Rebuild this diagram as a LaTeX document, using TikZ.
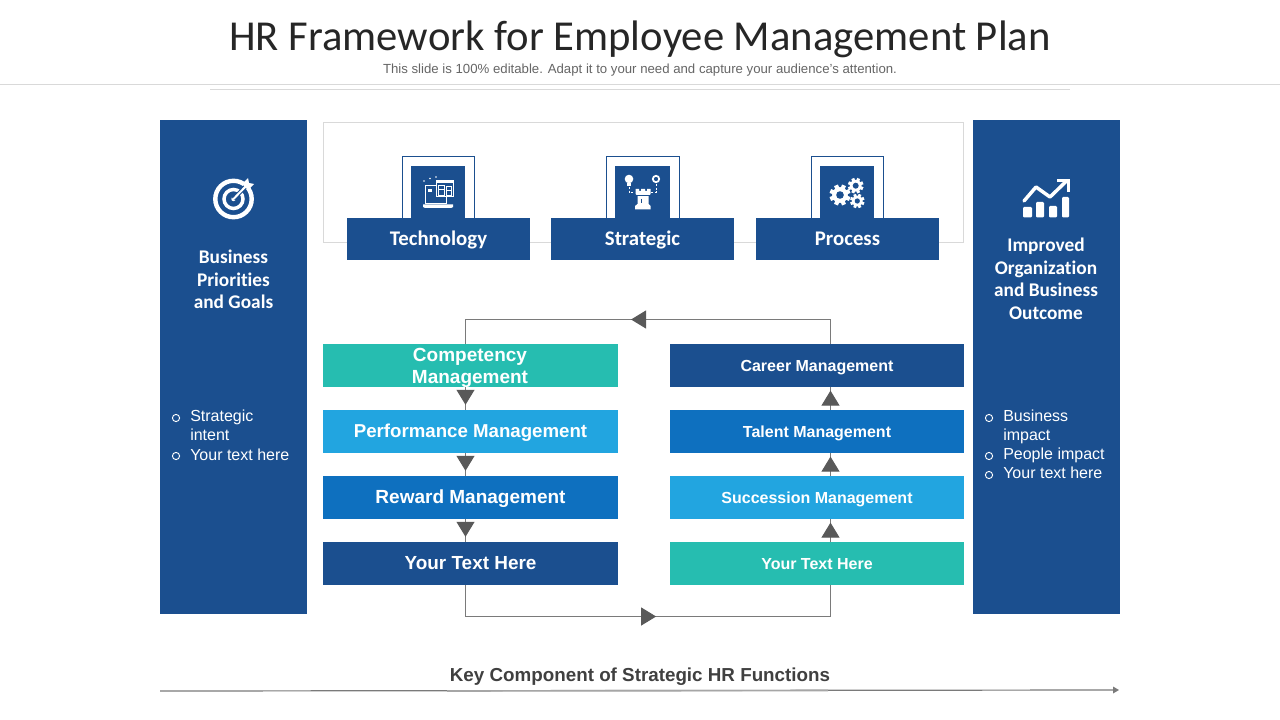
\documentclass[tikz,border=0pt]{standalone}
\usepackage{fontspec}
\setmainfont{Liberation Sans}
\newfontfamily\calfont[Ligatures=NoCommon]{Carlito}
\usetikzlibrary{arrows.meta,decorations.markings}
\definecolor{navy}{HTML}{1B4F8F}
\definecolor{tealb}{HTML}{26BDB0}
\definecolor{skyb}{HTML}{22A5E0}
\definecolor{midb}{HTML}{0E70BF}
\definecolor{linegray}{HTML}{7A7A7A}
\definecolor{trigray}{HTML}{595959}
\definecolor{rulegray}{HTML}{D9D9D9}
\newcommand{\fs}[1]{\fontsize{#1}{#1}\selectfont}
\newcommand{\gearicon}[4]{% x y r hole
  \fill[white] (#1,#2) circle[radius=#3*.75];
  \foreach \a in {0,45,...,315}{
    \fill[white,shift={(#1,#2)},rotate=\a+22.5] (#3*.62,-#3*.2) rectangle (#3,#3*.2);
  }
  \fill[navy] (#1,#2) circle[radius=#4];
}
\tikzset{
  x=.75pt,y=-.75pt,
  panel/.style={fill=navy,draw=none,inner sep=0,minimum width=110.25pt,minimum height=370.5pt},
  hdr/.style={fill=navy,draw=none,inner sep=0,minimum width=137.25pt,minimum height=31.5pt,text=white,font=\calfont\bfseries\fs{15.6},text height=11pt,text depth=1pt},
  fbox/.style={inner sep=0,minimum height=32.25pt,text=white,font=\bfseries,text height=10.7pt,text depth=1pt},
  lbox/.style={fbox,minimum width=221.25pt},
  rbox/.style={fbox,minimum width=220.5pt},
  ptitle/.style={text=white,font=\calfont\bfseries\fontsize{14.5}{16.9}\selectfont,align=center,inner sep=0},
  plist/.style={text=white,font=\fontsize{12}{14.25}\selectfont,align=left,anchor=west,inner sep=0},
  bul/.style={draw=white,line width=.7pt},
  conn/.style={draw=linegray,line width=.75pt,postaction={decorate}},
  tip at/.style={decoration={markings,mark=at position #1 with {\arrow{Triangle[width=13.5pt,length=11.25pt,color=trigray]}}}},
  icon/.style={white,line width=.75pt}
}
\begin{document}
\begin{tikzpicture}
\useasboundingbox (0,0) rectangle (1280,720);
\fill[white] (0,0) rectangle (1280,720);
% header
\node[inner sep=0,text=black!85,font=\calfont\fs{32}] (title) at (640,39.5) {HR Framework for Employee Management Plan};
\node[inner sep=0,text=black!60,font=\fs{9.9}] (sub) at (640,70.3) {This slide is 100\% editable. Adapt it to your need and capture your audience’s attention.};
\draw[rulegray,line width=.75pt] (0,84.5) -- (1280,84.5);
\draw[rulegray,line width=.75pt] (210,89.5) -- (1070,89.5);
% panels
\node[panel] (lp) at (233.5,367) {};
\node[panel] (rp) at (1046.5,367) {};
% top frame
\draw[rulegray,line width=.75pt] (323.5,122.5) rectangle (963,242.5);
% icon tiles
\foreach \xa/\xb/\xc/\xd in {402.5/474.5/411/465,606.5/679.5/615/670,811.5/883.5/820/874}{
  \draw[navy,line width=.75pt] (\xa,219) -- (\xa,156.5) -- (\xb,156.5) -- (\xb,219);
  \fill[navy] (\xc,166) rectangle (\xd,219);
}
% headers
\node[hdr] (tech) at (438.5,239) {Technology};
\node[hdr] (strat) at (642.5,239) {Strategic};
\node[hdr] (proc) at (847.5,239) {Process};
% left boxes
\node[lbox,fill=tealb] (comp) at (470.5,365.5) {};
\node[inner sep=0,text=white,font=\bfseries\fontsize{14.25}{17}\selectfont,align=center] (compt) at (470,368) {Competency\\Management};
\node[lbox,fill=skyb,font=\bfseries\fs{14}] (perf) at (470.5,431.5) {Performance Management};
\node[lbox,fill=midb,font=\bfseries\fs{14.25}] (rew) at (470.5,497.5) {Reward Management};
\node[lbox,fill=navy,font=\bfseries\fs{14.2}] (ytl) at (470.5,563.5) {Your Text Here};
% right boxes
\node[rbox,fill=navy,font=\bfseries\fs{12}] (car) at (817,365.5) {Career Management};
\node[rbox,fill=midb,font=\bfseries\fs{12}] (tal) at (817,431.5) {Talent Management};
\node[rbox,fill=skyb,font=\bfseries\fs{12}] (suc) at (817,497.5) {Succession Management};
\node[rbox,fill=tealb,font=\bfseries\fs{12}] (ytr) at (817,563.5) {Your Text Here};
% connector corners
\coordinate (ltop) at (465.5,319.5);
\coordinate (rtop) at (830.5,319.5);
\coordinate (lbot) at (465.5,616.5);
\coordinate (rbot) at (830.5,616.5);
% connectors
\draw[conn,tip at=.78] (ltop |- comp.south) -- (ltop |- perf.north);
\draw[conn,tip at=.78] (ltop |- perf.south) -- (ltop |- rew.north);
\draw[conn,tip at=.78] (ltop |- rew.south) -- (ltop |- ytl.north);
\draw[conn,tip at=.85] (rtop |- ytr.north) -- (rtop |- suc.south);
\draw[conn,tip at=.85] (rtop |- suc.north) -- (rtop |- tal.south);
\draw[conn,tip at=.85] (rtop |- tal.north) -- (rtop |- car.south);
\draw[conn,tip at=.541] (rtop |- car.north) -- (rtop) -- (ltop) -- (ltop |- comp.north);
\draw[conn,tip at=.519] (ltop |- ytl.south) -- (lbot) -- (rbot) -- (rtop |- ytr.south);
% panel text
\node[ptitle] (ltitle) at (233.5,279.5) {Business\\Priorities\\and Goals};
\node[ptitle] (rtitle) at (1046,279) {Improved\\Organization\\and Business\\Outcome};
\node[plist] (l1) at (190,425.5) {Strategic\\intent};
\node[plist] (l2) at (190,455) {Your text here};
\node[plist] (r1) at (1003,427) {Business\\impact};
\node[plist] (r2) at (1003,455.5) {People impact};
\node[plist] (r3) at (1003,472.5) {Your text here};
\foreach \p in {(176,418),(176,456),(989,418),(989,456),(989,475)}{
  \draw[bul] \p circle[radius=3.6];
}
% footer
\node[inner sep=0,text=black!75,font=\bfseries\fs{14.1}] (key) at (640,676.5) {Key Component of Strategic HR Functions};
\coordinate (fl) at (160,691);
\coordinate (fr) at (1119,690);
\draw[linegray,line width=.9pt,-{Triangle[width=5pt,length=4.5pt]}] (fl) -- (fr);
\draw[black!35,line width=1.2pt] (447,691) -- (828,690.5);
% target icon
\draw[white,line width=3.3pt] (233.5,199) circle[radius=18.2];
\draw[white,line width=2.6pt] (233.5,199) circle[radius=9.5];
\fill[white] (233.5,199) circle[radius=2.2];
\draw[navy,line width=3pt] (233.5,199) -- (247,185);
\draw[white,line width=1.5pt] (233.5,199) -- (247,185);
\fill[white] (243,183) -- (248,178) -- (249,183) -- (254,184) -- (249,189) -- (245,188) -- cycle;
% chart icon
\foreach \xa/\xb/\yt in {1023/1032/207,1036/1044/202,1049/1057/206,1062/1069/197}{
  \fill[white,rounded corners=.8pt] (\xa,\yt) rectangle (\xb,217.5);
}
\draw[white,line width=2.6pt,line join=round,line cap=round] (1024,201) -- (1036,187) -- (1050,197) -- (1066,181.5);
\draw[white,line width=2.6pt,line join=miter] (1057,180.5) -- (1068.5,180.5) -- (1068.5,192);
% laptop icon
\draw[icon,fill=navy] (425.5,186) rectangle (446,204);
\fill[white] (423,204.5) -- (453,204.5) -- (453,207) -- (451,208) -- (425,208) -- (423,207) -- cycle;
\draw[icon,fill=navy] (436,180.5) rectangle (453,197);
\fill[white] (436,180) rectangle (453,183);
\draw[icon,line width=.6pt] (438,185) rectangle (444.5,195);
\draw[icon,line width=.6pt] (446,186) rectangle (451.5,195);
\draw[white,line width=.5pt] (438,189) -- (444.5,189) (446,190) -- (451.5,190);
\fill[white] (427.5,189) rectangle (432,192);
\foreach \p in {(424,181),(430,178.5),(436,177)}{\fill[white] \p circle[radius=.9];}
% rook icon
\fill[white] (629,179) circle[radius=4.3];
\fill[white] (627,183) rectangle (631,186);
\draw[white,line width=.7pt,dash pattern=on 1.6pt off 1.2pt] (629,187) -- (629,192.5) -- (634,192.5);
\draw[white,line width=1.3pt] (656,179) circle[radius=3.2];
\draw[white,line width=.7pt,dash pattern=on 1.6pt off 1.2pt] (656,184) -- (656,192.5) -- (651,192.5);
\fill[white] (635.5,189) -- (639,189) -- (639,191) -- (641,191) -- (641,189) -- (645,189) -- (645,191) -- (647,191) -- (647,189) -- (650.5,189) -- (650.5,194) -- (648.5,196) -- (648.5,204) -- (650.5,206) -- (650.5,209.5) -- (635,209.5) -- (635,206) -- (637.5,204) -- (637.5,196) -- (635.5,194) -- cycle;
\draw[navy,line width=.6pt] (635.5,195) -- (650,195) (641,199) -- (641,203);
% gears
\gearicon{840}{195}{10.5}{3.8}
\gearicon{855.7}{185.7}{7.8}{3}
\gearicon{857.3}{201}{7.2}{2.6}
\end{tikzpicture}
\end{document}
